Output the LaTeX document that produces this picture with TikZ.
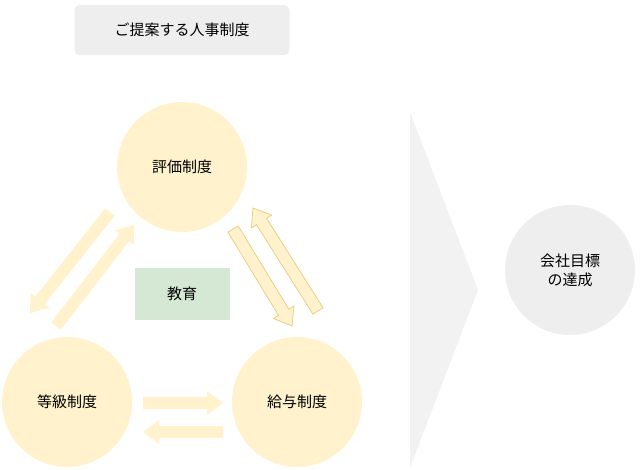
\documentclass[tikz,border=0pt]{standalone}
\usepackage{fontspec}
\setmainfont{Noto Sans CJK JP}
\usetikzlibrary{calc}
\definecolor{cyellow}{HTML}{FFF2CC}
\definecolor{cedge}{HTML}{E8CF85}
\definecolor{cgreen}{HTML}{D5E8D4}
\definecolor{cgray}{HTML}{EEEEEE}
\definecolor{cchev}{HTML}{F2F2F2}
\tikzset{
  sysnode/.style={circle,fill=cyellow,minimum size=130pt,inner sep=0pt,font=\fontsize{15}{18}\selectfont},
  goalnode/.style={circle,fill=cgray,minimum size=130pt,inner sep=0pt,align=center,font=\fontsize{15}{19}\selectfont},
  blockarr/.style={fill=cyellow,draw=none},
  edgearr/.style={fill=cyellow,draw=cedge,line width=0.8pt}
}
% block arrow from #2 to #3
\newcommand\blockarrow[3][blockarr]{%
  \path let \p1=(#2),\p2=(#3),\n1={atan2(\y2-\y1,\x2-\x1)},\n2={veclen(\x2-\x1,\y2-\y1)} in
    [#1,shift={(\p1)},rotate=\n1]
    (0pt,-6pt) -- (\n2-16pt,-6pt) -- (\n2-16pt,-12pt) -- (\n2,0pt) -- (\n2-16pt,12pt)
    -- (\n2-16pt,6pt) -- (0pt,6pt) -- cycle;}
\begin{document}
\begin{tikzpicture}[x=1pt,y=-1pt]
  \useasboundingbox (0,0) rectangle (640,469);

  %title
  \node[fill=cgray,rounded corners=5pt,minimum width=215pt,minimum height=50pt,
    font=\fontsize{15}{18}\selectfont] (title) at (182,30) {ご提案する人事制度};

  %chevron
  \fill[cchev] (410,112) -- (478,290) -- (410,468) -- cycle;

  %systems
  \node[sysnode] (eval) at (182,167) {評価制度};
  \node[sysnode] (grade) at (67,402) {等級制度};
  \node[sysnode] (pay) at (297,402) {給与制度};
  \node[fill=cgreen,minimum width=95pt,minimum height=52pt,font=\fontsize{15}{18}\selectfont] (edu) at (182,294) {教育};
  \node[goalnode] (goal) at (570,270) {会社目標\\の達成};

  %arrow ends
  \coordinate (a1) at (110,212); \coordinate (a2) at (30,313);
  \coordinate (b1) at (56,326);  \coordinate (b2) at (134,225);
  \coordinate (c1) at (233,229); \coordinate (c2) at (292,326);
  \coordinate (d1) at (318,311); \coordinate (d2) at (253,208);
  \coordinate (e1) at (143,403); \coordinate (e2) at (223,403);
  \coordinate (f1) at (223,432); \coordinate (f2) at (143,432);

  \blockarrow{a1}{a2}
  \blockarrow{b1}{b2}
  \blockarrow[edgearr]{c1}{c2}
  \blockarrow[edgearr]{d1}{d2}
  \blockarrow{e1}{e2}
  \blockarrow{f1}{f2}
\end{tikzpicture}
\end{document}
